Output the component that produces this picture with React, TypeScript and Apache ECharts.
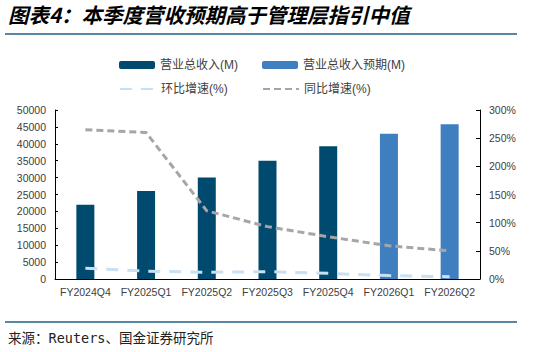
import React, { useEffect, useRef } from "react";
import * as echarts from "echarts";

const categories = ["FY2024Q4", "FY2025Q1", "FY2025Q2", "FY2025Q3", "FY2025Q4", "FY2026Q1", "FY2026Q2"];
const revenueActual: (number | string)[] = [22000, 26000, 30000, 35000, 39300, "-", "-"];
const revenueForecast: (number | string)[] = ["-", "-", "-", "-", "-", 43000, 45800];
const qoqGrowth = [19, 14, 12, 13, 10, 6, 4];
const yoyGrowth = [265, 260, 121, 93, 75, 59, 50];

const titleText = "图表4：本季度营收预期高于管理层指引中值";
const sourceText = "来源：Reuters、国金证券研究所";

const CJK = "'Liberation Sans', Arial, 'Noto Sans CJK SC', sans-serif";

export default function App() {
  const ref = useRef<HTMLDivElement>(null);
  useEffect(() => {
    if (!ref.current) return;
    const chart = echarts.init(ref.current, undefined, { renderer: "svg" });
    const legendText = { fontSize: 12, color: "#404040", fontFamily: CJK };
    const legendCommon = {
      itemWidth: 36,
      itemHeight: 8,
      itemGap: 5,
      textStyle: legendText,
      padding: 0,
    };
    chart.setOption({
      animation: false,
      backgroundColor: "#ffffff",
      grid: { left: 55, right: 61, top: 110, bottom: 73, containLabel: false },
      legend: [
        { ...legendCommon, data: ["营业总收入(M)"], left: 119, top: 59 },
        { ...legendCommon, data: ["营业总收入预期(M)"], left: 262, top: 59 },
        { ...legendCommon, data: ["环比增速(%)"], left: 119, top: 83, itemStyle: { opacity: 0 } },
        { ...legendCommon, data: ["同比增速(%)"], left: 262, top: 83, itemStyle: { opacity: 0 } },
      ],
      xAxis: {
        type: "category",
        data: categories,
        axisLine: { lineStyle: { color: "#000", width: 1 } },
        axisTick: { inside: true, length: 4, lineStyle: { color: "#000" } },
        axisLabel: { fontSize: 10.5, color: "#404040", fontFamily: CJK, margin: 8, interval: 0 },
      },
      yAxis: [
        {
          type: "value",
          min: 0,
          max: 50000,
          interval: 5000,
          splitLine: { show: false },
          axisLine: { show: true, lineStyle: { color: "#000" } },
          axisTick: { show: true, inside: true, length: 3, lineStyle: { color: "#000" } },
          axisLabel: {
            fontSize: 10.5,
            color: "#404040",
            fontFamily: CJK,
            margin: 9,
            formatter: (v: number) => String(v),
          },
        },
        {
          type: "value",
          min: 0,
          max: 300,
          interval: 50,
          splitLine: { show: false },
          axisLine: { show: true, lineStyle: { color: "#000" } },
          axisTick: { show: true, inside: true, length: 4, lineStyle: { color: "#000" } },
          axisLabel: { fontSize: 10.5, color: "#404040", fontFamily: CJK, margin: 9, formatter: "{value}%" },
        },
      ],
      series: [
        {
          name: "营业总收入(M)",
          type: "bar",
          data: revenueActual,
          barWidth: 18,
          barGap: "-100%",
          itemStyle: { color: "#004a70" },
        },
        {
          name: "营业总收入预期(M)",
          type: "bar",
          data: revenueForecast,
          barWidth: 18,
          barGap: "-100%",
          itemStyle: { color: "#3f7fbf" },
        },
        {
          name: "环比增速(%)",
          type: "line",
          yAxisIndex: 1,
          data: qoqGrowth,
          symbol: "none",
          lineStyle: { color: "#c9e0f3", width: 3, type: [12, 9] },
          itemStyle: { color: "#c9e0f3" },
        },
        {
          name: "同比增速(%)",
          type: "line",
          yAxisIndex: 1,
          data: yoyGrowth,
          symbol: "none",
          lineStyle: { color: "#a6a6a6", width: 3, type: [7, 4] },
          itemStyle: { color: "#a6a6a6" },
        },
      ],
      graphic: [
        {
          type: "text",
          left: 8,
          top: 4,
          style: {
            text: titleText,
            fontSize: 20.5,
            fontWeight: "bold",
            fontStyle: "italic",
            fill: "#000",
            fontFamily: "'Noto Sans CJK SC', sans-serif",
          },
        },
        {
          type: "line",
          shape: { x1: 5, y1: 34, x2: 517, y2: 34 },
          style: { stroke: "#1f5f80", lineWidth: 1.5 },
        },
        {
          type: "line",
          shape: { x1: 5, y1: 322, x2: 517, y2: 322 },
          style: { stroke: "#1f5f80", lineWidth: 1.5 },
        },
        {
          type: "text",
          left: 8,
          top: 331,
          style: {
            text: sourceText,
            fontSize: 13.5,
            fill: "#222",
            fontFamily: "'DejaVu Sans Mono', 'Noto Sans CJK SC', monospace",
          },
        },
      ],
    });
    return () => chart.dispose();
  }, []);
  return <div ref={ref} style={{ width: 541, height: 352, position: "absolute", left: 0, top: 0 }} />;
}
